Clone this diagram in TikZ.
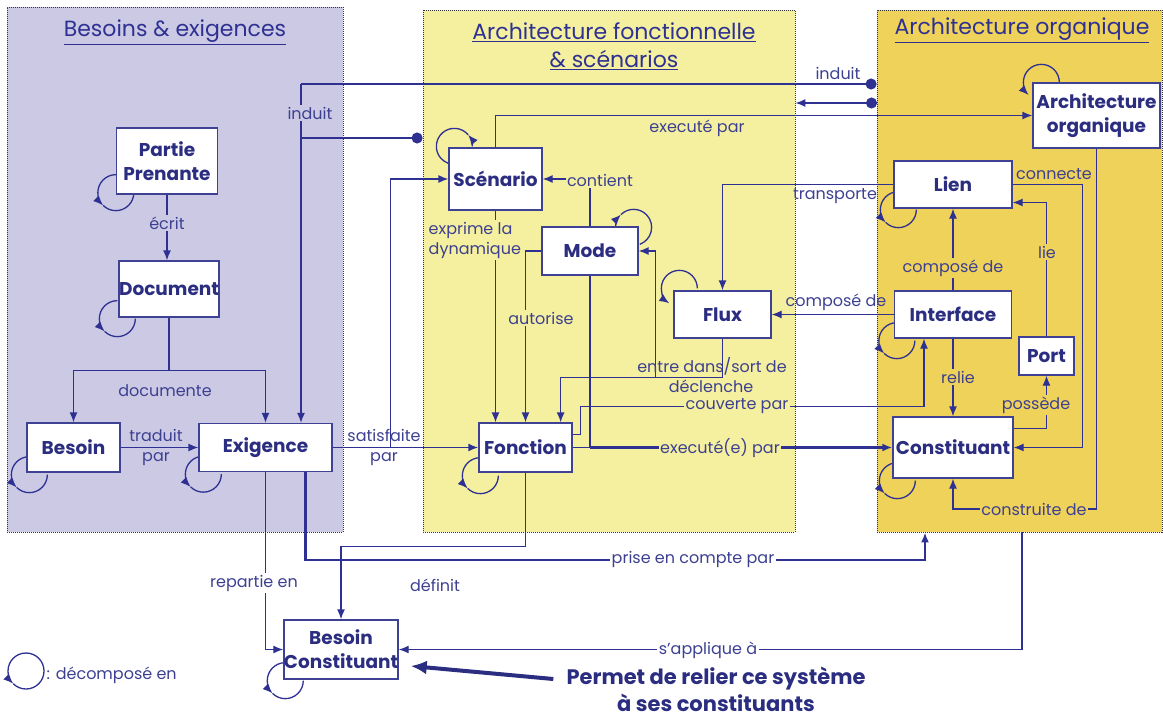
\documentclass[tikz,border=0pt]{standalone}
\usepackage{fontspec}
\setmainfont{Poppins}
\usepackage{tikz}
\usetikzlibrary{arrows.meta, positioning, backgrounds}

\definecolor{besbg}{HTML}{CBC9E4}
\definecolor{fonbg}{HTML}{F4F09F}
\definecolor{orgbg}{HTML}{EFD259}
\definecolor{nodetext}{HTML}{2B2D80}
\definecolor{lblblue}{HTML}{3D4091}
\definecolor{linkblue}{HTML}{2E3192}
\definecolor{boxline}{HTML}{3F4294}

\begin{document}
\begin{tikzpicture}[x=1pt, y=-1pt, >={Latex[length=10pt,width=8pt]}]
\tikzstyle{panel} = [rectangle, draw=black!80, line width=0.8pt, dash pattern=on 1pt off 1pt, inner sep=0pt]
\tikzstyle{paneltitle} = [text=linkblue, font=\fontsize{22}{28}\selectfont, align=center]
\tikzstyle{entity} = [rectangle, draw=boxline, fill=white, line width=1.3pt, inner sep=0pt, align=center, text=nodetext, font=\fontsize{18.5}{24}\selectfont\bfseries]
\tikzstyle{lbl} = [text=lblblue, font=\fontsize{16}{20}\selectfont, inner sep=1.5pt, align=center]
\tikzstyle{link} = [draw=linkblue, line width=1.3pt]
\tikzstyle{rel} = [link, ->]
\tikzstyle{thickrel} = [rel, line width=2.6pt]
\tikzstyle{loopline} = [draw=linkblue, line width=1.3pt]
\tikzstyle{bigarrow} = [draw=nodetext, line width=4pt, -{Latex[length=16pt,width=14pt]}]

\useasboundingbox (0,0) rectangle (1163,717);

% les trois domaines
\begin{scope}[on background layer]
\node (pbes) [panel, fill=besbg, minimum width=336pt, minimum height=525pt] at (175,269.5) {};
\node (pfon) [panel, fill=fonbg, minimum width=372pt, minimum height=522pt] at (609,271) {};
\node (porg) [panel, fill=orgbg, minimum width=285pt, minimum height=522pt] at (1019.5,271) {};
\end{scope}

\node (tbes) [paneltitle] at (175,32) {\underline{Besoins \& exigences}};
\node (tfon) [paneltitle] at (614,46) {\underline{Architecture fonctionnelle}\\\underline{\& scénarios}};
\node (torg) [paneltitle] at (1022,30) {\underline{Architecture organique}};

% entites
\node (pp) [entity, minimum width=101pt, minimum height=66pt] at (167,161) {Partie\\Prenante};
\node (doc) [entity, minimum width=100pt, minimum height=56pt] at (169,289) {Document};
\node (besoin) [entity, minimum width=93pt, minimum height=49pt] at (73.5,447.5) {Besoin};
\node (exig) [entity, minimum width=133pt, minimum height=48pt] at (265.5,447.5) {Exigence};
\node (scen) [entity, minimum width=93pt, minimum height=62pt] at (495.5,179) {Scénario};
\node (mode) [entity, minimum width=96pt, minimum height=48pt] at (590,251) {Mode};
\node (flux) [entity, minimum width=97pt, minimum height=47pt] at (722.5,314.5) {Flux};
\node (fonc) [entity, minimum width=93pt, minimum height=49pt] at (525.5,447.5) {Fonction};
\node (archi) [entity, minimum width=127pt, minimum height=65pt] at (1096.5,115.5) {Architecture\\organique};
\node (lien) [entity, minimum width=118pt, minimum height=47pt] at (953,184.5) {Lien};
\node (interf) [entity, minimum width=117pt, minimum height=47pt] at (953,314.5) {Interface};
\node (port) [entity, minimum width=55pt, minimum height=38pt] at (1046.5,356) {Port};
\node (constit) [entity, minimum width=120pt, minimum height=61pt] at (953,447.5) {Constituant};
\node (bc) [entity, minimum width=110pt, minimum height=59pt] at (341,649.5) {Besoin\\Constituant};

% boucles "decompose en"
\begin{scope}[on background layer]
\foreach \nd/\an/\ox/\oy/\sa/\ta/\ea in {pp/south west/0/-2/270/135/0, doc/south west/-1/1/270/135/0,
    besoin/south west/3/2/270/135/0, exig/south west/5/2/270/135/0, scen/north west/6/-1/0/-40/-250,
    mode/north east/-5/1/180/225/430, fonc/south west/2/3/270/135/0, lien/south west/5/1/270/135/0,
    interf/south west/3/2/270/135/0, constit/south west/5/2/270/135/0, bc/south west/2/1/270/135/0} {
  \draw[loopline, ->] (\nd.\an) ++(\ox,\oy) ++(\sa:18) arc[start angle=\sa, end angle=\ta, radius=18];
  \draw[loopline] (\nd.\an) ++(\ox,\oy) ++(\ta:18) arc[start angle=\ta, end angle=\ea, radius=18];
}
\draw[loopline, ->] (flux.north west) ++(6,-2) ++(0:18) arc[start angle=0, end angle=-236, radius=18];
\draw[loopline, ->] (archi.north west) ++(9,0) ++(0:18) arc[start angle=0, end angle=-225, radius=18];
\end{scope}

% besoins & exigences
\draw[rel] (pp.south) -- (pp.south |- doc.north);
\draw[rel] (doc.south) -- ++(0,53) -| (besoin.north);
\draw[rel] (doc.south) -- ++(0,53) -| (exig.north);
\draw[rel] (besoin.east) -- (besoin.east -| exig.west);
\coordinate (inda) at (301,84);
\coordinate (indb) at (301,138);
\coordinate (indc) at (877,103);
\draw[rel] (inda) -- (inda |- exig.north);
\draw[link, -{Circle[length=11pt]}] (inda) -- (inda -| porg.west);
\draw[link, -{Circle[length=11pt]}] (indb) -- (indb -| pfon.west);
\draw[link, {Circle[length=11pt]}-{Latex[length=10pt,width=8pt]}] (indc) -- (indc -| pfon.east);

% architecture fonctionnelle
\draw[rel] (exig.east) -- ++(58,0) |- (scen.west);
\draw[rel, line width=1.8pt] (exig.east) -- (exig.east -| fonc.west);
\draw[rel] (scen.north) |- (archi.west);
\draw[rel] (scen.south) -- (scen.south |- fonc.north);
\draw[rel] (mode.north) |- (scen.east);
\draw[rel] (mode.west) -| (fonc.north);
\draw[link] (mode.south) -- (mode.south |- fonc.east);
\draw[link] (fonc.east) -- (fonc.east -| mode.south);
\draw[thickrel] (fonc.east -| mode.south) -- (constit.west);
\draw[rel] (flux.south) -- ++(0,39) -| ([xshift=-12pt]fonc.north east);
\draw[rel] (flux.south) -- ++(0,39) -- ++(-67,0) |- (mode.east);
\draw[rel] ([yshift=13pt]fonc.east) -- ++(8,0) -- ++(0,-28) -| ([xshift=-29pt]interf.south);

% architecture organique
\draw[rel] (lien.west) -| (flux.north);
\draw[rel] (interf.west) -- (flux.east);
\draw[rel] (interf.north) -- (lien.south);
\draw[rel] (interf.south) -- (constit.north);
\draw[rel] ([yshift=19pt]constit.east) -| (port.south);
\draw[rel] (port.north) |- ([yshift=-18pt]lien.east);
\draw[rel] (lien.east) -- ++(70,0) |- (constit.east);
\draw[rel] (archi.south) -- (archi.south |- 0,509) -| (constit.south);

% besoin constituant
\draw[thickrel] ([xshift=40pt]exig.south) -- ++(0,88) -| ([xshift=-94.5pt]porg.south);
\draw[rel] (exig.south) |- (bc.west);
\draw[rel] (fonc.south) -- ++(0,74) -| (bc.north);
\draw[rel] ([xshift=2.5pt]porg.south) |- (bc.east);

% libelles
\node (lecrit) [lbl, fill=besbg] at (167,223) {écrit};
\node (ldoc) [lbl] at (165,391) {documente};
\node (ltrad) [lbl] at (156,447) {traduit\\par};
\node (lind1) [lbl, fill=besbg] at (310,113) {induit};
\node (lind2) [lbl] at (838,73) {induit};
\node (lexecp) [lbl] at (697,128) {executé par};
\node (lsat) [lbl] at (384,447) {satisfaite\\par};
\node (lexpr) [lbl, fill=fonbg, align=left, anchor=west] at (427,240) {exprime la\\dynamique};
\node (lcont) [lbl, fill=fonbg] at (600,180) {contient};
\node (lauto) [lbl, fill=fonbg] at (541,318) {autorise};
\node (lentre) [lbl] at (712,366) {entre dans/sort de};
\node (ldecl) [lbl] at (711,386) {déclenche};
\node (lcouv) [lbl, fill=fonbg] at (737,406) {couverte par};
\node (lexec) [lbl, fill=fonbg] at (720,448) {executé(e) par};
\node (ltransp) [lbl] at (835,196) {transporte};
\node (lcomp1) [lbl] at (836,302) {composé de};
\node (lcomp2) [lbl, fill=orgbg] at (953,268) {composé de};
\node (lrelie) [lbl, fill=orgbg] at (958,377) {relie};
\node (lposs) [lbl, fill=orgbg] at (1036,405) {possède};
\node (llie) [lbl, fill=orgbg] at (1047,252) {lie};
\node (lconn) [lbl] at (1054,174) {connecte};
\node (lconst) [lbl, fill=orgbg] at (1034,509) {construite de};
\node (lprise) [lbl, fill=white] at (693,559) {prise en compte par};
\node (lrep) [lbl, fill=white] at (254,583) {repartie en};
\node (ldef) [lbl] at (435,585) {définit};
\node (lappl) [lbl, fill=white] at (708,650) {s'applique à};

% legende et remarque
\coordinate (leg) at (26,671);
\draw[loopline, ->] (leg) ++(270:18) arc[start angle=270, end angle=135, radius=18];
\draw[loopline] (leg) ++(135:18) arc[start angle=135, end angle=-90, radius=18];
\node (legtxt) [lbl, anchor=west] at (45,675) {: décomposé en};
\node (perm) [text=nodetext, inner sep=0pt, font=\fontsize{21}{27}\selectfont\bfseries, align=center] at (716,689) {Permet de relier ce système\\à ses constituants};
\draw[bigarrow] ([xshift=-13pt,yshift=10pt]perm.west) -- ([xshift=12pt,yshift=-16.5pt]bc.east);
\end{tikzpicture}
\end{document}
